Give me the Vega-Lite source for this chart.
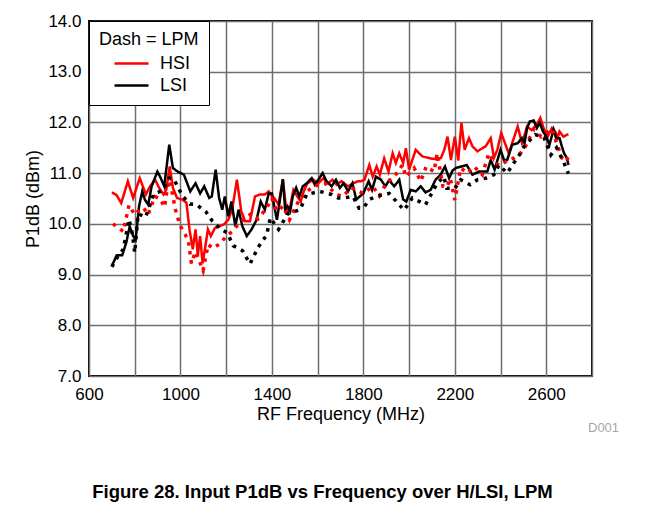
{
  "$schema": "https://vega.github.io/schema/vega-lite/v6.json",
  "autosize": "none",
  "width": 503,
  "height": 355,
  "padding": {"left": 89, "top": 21, "right": 59, "bottom": 132},
  "background": "white",
  "config": {
    "font": "Liberation Sans",
    "view": {"stroke": "black", "strokeWidth": 2},
    "axis": {"labelFont": "Liberation Sans", "titleFont": "Liberation Sans", "labelFontSize": 17, "titleFontSize": 18, "titleFontWeight": "normal", "labelColor": "black", "titleColor": "black", "domain": false, "ticks": false, "gridColor": "#6e6e6e", "gridWidth": 1.5, "gridOpacity": 1},
    "legend": {"labelFont": "Liberation Sans", "titleFont": "Liberation Sans"}
  },
  "title": {"text": "Figure 28. Input P1dB vs Frequency over H/LSI, LPM", "orient": "bottom", "anchor": "middle", "dx": -18, "offset": 48, "fontSize": 18.5, "fontWeight": "bold", "font": "Liberation Sans", "color": "black"},
  "layer": [
    {
      "data": {"values": [
{"f":700,"v":10.62,"s":"HSI","m":"HPM"},{"f":720,"v":10.57,"s":"HSI","m":"HPM"},{"f":741,"v":10.41,"s":"HSI","m":"HPM"},{"f":770,"v":10.84,"s":"HSI","m":"HPM"},{"f":793,"v":10.51,"s":"HSI","m":"HPM"},{"f":822,"v":10.9,"s":"HSI","m":"HPM"},{"f":849,"v":10.58,"s":"HSI","m":"HPM"},{"f":867,"v":10.74,"s":"HSI","m":"HPM"},{"f":889,"v":10.87,"s":"HSI","m":"HPM"},{"f":908,"v":10.7,"s":"HSI","m":"HPM"},{"f":926,"v":10.58,"s":"HSI","m":"HPM"},{"f":938,"v":10.67,"s":"HSI","m":"HPM"},{"f":953,"v":11.13,"s":"HSI","m":"HPM"},{"f":967,"v":10.71,"s":"HSI","m":"HPM"},{"f":985,"v":10.51,"s":"HSI","m":"HPM"},{"f":1007,"v":10.48,"s":"HSI","m":"HPM"},{"f":1026,"v":10.42,"s":"HSI","m":"HPM"},{"f":1040,"v":9.87,"s":"HSI","m":"HPM"},{"f":1054,"v":9.5,"s":"HSI","m":"HPM"},{"f":1066,"v":9.89,"s":"HSI","m":"HPM"},{"f":1076,"v":9.37,"s":"HSI","m":"HPM"},{"f":1086,"v":9.76,"s":"HSI","m":"HPM"},{"f":1097,"v":9.22,"s":"HSI","m":"HPM"},{"f":1109,"v":9.56,"s":"HSI","m":"HPM"},{"f":1120,"v":9.89,"s":"HSI","m":"HPM"},{"f":1133,"v":9.76,"s":"HSI","m":"HPM"},{"f":1151,"v":9.92,"s":"HSI","m":"HPM"},{"f":1169,"v":9.95,"s":"HSI","m":"HPM"},{"f":1190,"v":9.99,"s":"HSI","m":"HPM"},{"f":1209,"v":10.08,"s":"HSI","m":"HPM"},{"f":1226,"v":10.28,"s":"HSI","m":"HPM"},{"f":1247,"v":10.87,"s":"HSI","m":"HPM"},{"f":1266,"v":10.25,"s":"HSI","m":"HPM"},{"f":1283,"v":10.05,"s":"HSI","m":"HPM"},{"f":1304,"v":10.05,"s":"HSI","m":"HPM"},{"f":1326,"v":10.54,"s":"HSI","m":"HPM"},{"f":1347,"v":10.58,"s":"HSI","m":"HPM"},{"f":1369,"v":10.58,"s":"HSI","m":"HPM"},{"f":1386,"v":10.64,"s":"HSI","m":"HPM"},{"f":1400,"v":10.55,"s":"HSI","m":"HPM"},{"f":1410,"v":10.51,"s":"HSI","m":"HPM"},{"f":1429,"v":10.38,"s":"HSI","m":"HPM"},{"f":1448,"v":10.88,"s":"HSI","m":"HPM"},{"f":1465,"v":10.18,"s":"HSI","m":"HPM"},{"f":1480,"v":10.35,"s":"HSI","m":"HPM"},{"f":1494,"v":10.67,"s":"HSI","m":"HPM"},{"f":1510,"v":10.55,"s":"HSI","m":"HPM"},{"f":1526,"v":10.44,"s":"HSI","m":"HPM"},{"f":1540,"v":10.65,"s":"HSI","m":"HPM"},{"f":1555,"v":10.8,"s":"HSI","m":"HPM"},{"f":1581,"v":10.87,"s":"HSI","m":"HPM"},{"f":1603,"v":10.8,"s":"HSI","m":"HPM"},{"f":1625,"v":10.9,"s":"HSI","m":"HPM"},{"f":1645,"v":10.8,"s":"HSI","m":"HPM"},{"f":1665,"v":10.87,"s":"HSI","m":"HPM"},{"f":1683,"v":10.77,"s":"HSI","m":"HPM"},{"f":1704,"v":10.84,"s":"HSI","m":"HPM"},{"f":1733,"v":10.74,"s":"HSI","m":"HPM"},{"f":1755,"v":10.8,"s":"HSI","m":"HPM"},{"f":1777,"v":10.84,"s":"HSI","m":"HPM"},{"f":1790,"v":10.84,"s":"HSI","m":"HPM"},{"f":1805,"v":10.87,"s":"HSI","m":"HPM"},{"f":1826,"v":11.16,"s":"HSI","m":"HPM"},{"f":1841,"v":10.93,"s":"HSI","m":"HPM"},{"f":1858,"v":11.13,"s":"HSI","m":"HPM"},{"f":1872,"v":10.97,"s":"HSI","m":"HPM"},{"f":1891,"v":11.29,"s":"HSI","m":"HPM"},{"f":1910,"v":11.03,"s":"HSI","m":"HPM"},{"f":1928,"v":11.39,"s":"HSI","m":"HPM"},{"f":1942,"v":11.2,"s":"HSI","m":"HPM"},{"f":1957,"v":11.39,"s":"HSI","m":"HPM"},{"f":1974,"v":11.2,"s":"HSI","m":"HPM"},{"f":1986,"v":11.49,"s":"HSI","m":"HPM"},{"f":2000,"v":11.07,"s":"HSI","m":"HPM"},{"f":2029,"v":11.46,"s":"HSI","m":"HPM"},{"f":2058,"v":11.33,"s":"HSI","m":"HPM"},{"f":2094,"v":11.29,"s":"HSI","m":"HPM"},{"f":2123,"v":11.27,"s":"HSI","m":"HPM"},{"f":2139,"v":11.3,"s":"HSI","m":"HPM"},{"f":2154,"v":11.46,"s":"HSI","m":"HPM"},{"f":2168,"v":11.72,"s":"HSI","m":"HPM"},{"f":2183,"v":11.26,"s":"HSI","m":"HPM"},{"f":2200,"v":11.72,"s":"HSI","m":"HPM"},{"f":2215,"v":11.25,"s":"HSI","m":"HPM"},{"f":2229,"v":11.99,"s":"HSI","m":"HPM"},{"f":2243,"v":11.46,"s":"HSI","m":"HPM"},{"f":2262,"v":11.69,"s":"HSI","m":"HPM"},{"f":2277,"v":11.53,"s":"HSI","m":"HPM"},{"f":2299,"v":11.43,"s":"HSI","m":"HPM"},{"f":2313,"v":11.47,"s":"HSI","m":"HPM"},{"f":2335,"v":11.53,"s":"HSI","m":"HPM"},{"f":2357,"v":11.69,"s":"HSI","m":"HPM"},{"f":2371,"v":11.3,"s":"HSI","m":"HPM"},{"f":2386,"v":11.46,"s":"HSI","m":"HPM"},{"f":2403,"v":11.79,"s":"HSI","m":"HPM"},{"f":2422,"v":11.56,"s":"HSI","m":"HPM"},{"f":2436,"v":11.39,"s":"HSI","m":"HPM"},{"f":2458,"v":11.69,"s":"HSI","m":"HPM"},{"f":2475,"v":11.92,"s":"HSI","m":"HPM"},{"f":2494,"v":11.59,"s":"HSI","m":"HPM"},{"f":2516,"v":11.92,"s":"HSI","m":"HPM"},{"f":2535,"v":11.85,"s":"HSI","m":"HPM"},{"f":2557,"v":11.95,"s":"HSI","m":"HPM"},{"f":2574,"v":12.09,"s":"HSI","m":"HPM"},{"f":2588,"v":11.89,"s":"HSI","m":"HPM"},{"f":2606,"v":11.72,"s":"HSI","m":"HPM"},{"f":2625,"v":11.89,"s":"HSI","m":"HPM"},{"f":2639,"v":11.82,"s":"HSI","m":"HPM"},{"f":2650,"v":11.7,"s":"HSI","m":"HPM"},{"f":2658,"v":11.82,"s":"HSI","m":"HPM"},{"f":2675,"v":11.72,"s":"HSI","m":"HPM"},{"f":2697,"v":11.77,"s":"HSI","m":"HPM"},
{"f":700,"v":9.17,"s":"LSI","m":"HPM"},{"f":721,"v":9.38,"s":"LSI","m":"HPM"},{"f":745,"v":9.38,"s":"LSI","m":"HPM"},{"f":763,"v":9.63,"s":"LSI","m":"HPM"},{"f":778,"v":9.95,"s":"LSI","m":"HPM"},{"f":793,"v":9.76,"s":"LSI","m":"HPM"},{"f":804,"v":9.69,"s":"LSI","m":"HPM"},{"f":819,"v":10.35,"s":"LSI","m":"HPM"},{"f":833,"v":10.64,"s":"LSI","m":"HPM"},{"f":844,"v":10.48,"s":"LSI","m":"HPM"},{"f":859,"v":10.38,"s":"LSI","m":"HPM"},{"f":874,"v":10.74,"s":"LSI","m":"HPM"},{"f":899,"v":11.03,"s":"LSI","m":"HPM"},{"f":911,"v":10.93,"s":"LSI","m":"HPM"},{"f":929,"v":10.74,"s":"LSI","m":"HPM"},{"f":951,"v":11.56,"s":"LSI","m":"HPM"},{"f":967,"v":11.1,"s":"LSI","m":"HPM"},{"f":988,"v":11.03,"s":"LSI","m":"HPM"},{"f":1015,"v":10.97,"s":"LSI","m":"HPM"},{"f":1043,"v":10.64,"s":"LSI","m":"HPM"},{"f":1066,"v":10.8,"s":"LSI","m":"HPM"},{"f":1086,"v":10.6,"s":"LSI","m":"HPM"},{"f":1104,"v":10.74,"s":"LSI","m":"HPM"},{"f":1126,"v":10.51,"s":"LSI","m":"HPM"},{"f":1137,"v":10.54,"s":"LSI","m":"HPM"},{"f":1154,"v":11.07,"s":"LSI","m":"HPM"},{"f":1169,"v":10.51,"s":"LSI","m":"HPM"},{"f":1183,"v":10.28,"s":"LSI","m":"HPM"},{"f":1194,"v":10.54,"s":"LSI","m":"HPM"},{"f":1209,"v":10.15,"s":"LSI","m":"HPM"},{"f":1223,"v":10.44,"s":"LSI","m":"HPM"},{"f":1240,"v":9.95,"s":"LSI","m":"HPM"},{"f":1254,"v":10.28,"s":"LSI","m":"HPM"},{"f":1271,"v":9.95,"s":"LSI","m":"HPM"},{"f":1290,"v":9.76,"s":"LSI","m":"HPM"},{"f":1311,"v":9.89,"s":"LSI","m":"HPM"},{"f":1333,"v":10.08,"s":"LSI","m":"HPM"},{"f":1351,"v":10.44,"s":"LSI","m":"HPM"},{"f":1369,"v":10.28,"s":"LSI","m":"HPM"},{"f":1386,"v":10.6,"s":"LSI","m":"HPM"},{"f":1400,"v":10.6,"s":"LSI","m":"HPM"},{"f":1410,"v":10.35,"s":"LSI","m":"HPM"},{"f":1422,"v":10.08,"s":"LSI","m":"HPM"},{"f":1433,"v":10.41,"s":"LSI","m":"HPM"},{"f":1448,"v":10.88,"s":"LSI","m":"HPM"},{"f":1458,"v":10.28,"s":"LSI","m":"HPM"},{"f":1468,"v":10.35,"s":"LSI","m":"HPM"},{"f":1480,"v":10.25,"s":"LSI","m":"HPM"},{"f":1491,"v":10.54,"s":"LSI","m":"HPM"},{"f":1506,"v":10.71,"s":"LSI","m":"HPM"},{"f":1520,"v":10.54,"s":"LSI","m":"HPM"},{"f":1535,"v":10.74,"s":"LSI","m":"HPM"},{"f":1552,"v":10.8,"s":"LSI","m":"HPM"},{"f":1574,"v":10.9,"s":"LSI","m":"HPM"},{"f":1588,"v":10.77,"s":"LSI","m":"HPM"},{"f":1603,"v":10.87,"s":"LSI","m":"HPM"},{"f":1622,"v":11.0,"s":"LSI","m":"HPM"},{"f":1639,"v":10.84,"s":"LSI","m":"HPM"},{"f":1661,"v":10.74,"s":"LSI","m":"HPM"},{"f":1680,"v":10.87,"s":"LSI","m":"HPM"},{"f":1697,"v":10.71,"s":"LSI","m":"HPM"},{"f":1714,"v":10.8,"s":"LSI","m":"HPM"},{"f":1733,"v":10.64,"s":"LSI","m":"HPM"},{"f":1752,"v":10.8,"s":"LSI","m":"HPM"},{"f":1769,"v":10.48,"s":"LSI","m":"HPM"},{"f":1784,"v":10.54,"s":"LSI","m":"HPM"},{"f":1800,"v":10.6,"s":"LSI","m":"HPM"},{"f":1823,"v":10.84,"s":"LSI","m":"HPM"},{"f":1838,"v":10.67,"s":"LSI","m":"HPM"},{"f":1855,"v":10.93,"s":"LSI","m":"HPM"},{"f":1877,"v":10.87,"s":"LSI","m":"HPM"},{"f":1896,"v":10.74,"s":"LSI","m":"HPM"},{"f":1913,"v":10.86,"s":"LSI","m":"HPM"},{"f":1935,"v":10.74,"s":"LSI","m":"HPM"},{"f":1957,"v":10.87,"s":"LSI","m":"HPM"},{"f":1974,"v":10.48,"s":"LSI","m":"HPM"},{"f":1988,"v":10.44,"s":"LSI","m":"HPM"},{"f":2007,"v":10.67,"s":"LSI","m":"HPM"},{"f":2029,"v":10.64,"s":"LSI","m":"HPM"},{"f":2051,"v":10.74,"s":"LSI","m":"HPM"},{"f":2072,"v":10.62,"s":"LSI","m":"HPM"},{"f":2094,"v":10.67,"s":"LSI","m":"HPM"},{"f":2116,"v":10.87,"s":"LSI","m":"HPM"},{"f":2138,"v":10.97,"s":"LSI","m":"HPM"},{"f":2157,"v":11.13,"s":"LSI","m":"HPM"},{"f":2175,"v":10.9,"s":"LSI","m":"HPM"},{"f":2190,"v":11.05,"s":"LSI","m":"HPM"},{"f":2204,"v":11.1,"s":"LSI","m":"HPM"},{"f":2229,"v":11.13,"s":"LSI","m":"HPM"},{"f":2252,"v":11.16,"s":"LSI","m":"HPM"},{"f":2277,"v":10.97,"s":"LSI","m":"HPM"},{"f":2306,"v":11.03,"s":"LSI","m":"HPM"},{"f":2342,"v":11.03,"s":"LSI","m":"HPM"},{"f":2357,"v":11.26,"s":"LSI","m":"HPM"},{"f":2374,"v":11.07,"s":"LSI","m":"HPM"},{"f":2400,"v":11.46,"s":"LSI","m":"HPM"},{"f":2415,"v":11.26,"s":"LSI","m":"HPM"},{"f":2429,"v":11.26,"s":"LSI","m":"HPM"},{"f":2451,"v":11.56,"s":"LSI","m":"HPM"},{"f":2475,"v":11.59,"s":"LSI","m":"HPM"},{"f":2494,"v":11.69,"s":"LSI","m":"HPM"},{"f":2505,"v":11.59,"s":"LSI","m":"HPM"},{"f":2516,"v":11.89,"s":"LSI","m":"HPM"},{"f":2528,"v":12.02,"s":"LSI","m":"HPM"},{"f":2545,"v":12.04,"s":"LSI","m":"HPM"},{"f":2559,"v":11.89,"s":"LSI","m":"HPM"},{"f":2571,"v":11.99,"s":"LSI","m":"HPM"},{"f":2586,"v":11.82,"s":"LSI","m":"HPM"},{"f":2600,"v":11.72,"s":"LSI","m":"HPM"},{"f":2614,"v":11.56,"s":"LSI","m":"HPM"},{"f":2632,"v":11.86,"s":"LSI","m":"HPM"},{"f":2643,"v":11.69,"s":"LSI","m":"HPM"},{"f":2658,"v":11.69,"s":"LSI","m":"HPM"},{"f":2668,"v":11.53,"s":"LSI","m":"HPM"},{"f":2678,"v":11.39,"s":"LSI","m":"HPM"},{"f":2690,"v":11.3,"s":"LSI","m":"HPM"},{"f":2697,"v":11.16,"s":"LSI","m":"HPM"},
{"f":705,"v":10.0,"s":"HSI","m":"LPM"},{"f":750,"v":9.85,"s":"HSI","m":"LPM"},{"f":775,"v":10.37,"s":"HSI","m":"LPM"},{"f":800,"v":10.18,"s":"HSI","m":"LPM"},{"f":825,"v":10.3,"s":"HSI","m":"LPM"},{"f":840,"v":10.31,"s":"HSI","m":"LPM"},{"f":858,"v":10.18,"s":"HSI","m":"LPM"},{"f":888,"v":10.54,"s":"HSI","m":"LPM"},{"f":910,"v":10.5,"s":"HSI","m":"LPM"},{"f":931,"v":10.33,"s":"HSI","m":"LPM"},{"f":950,"v":10.95,"s":"HSI","m":"LPM"},{"f":977,"v":10.3,"s":"HSI","m":"LPM"},{"f":997,"v":9.98,"s":"HSI","m":"LPM"},{"f":1034,"v":9.68,"s":"HSI","m":"LPM"},{"f":1048,"v":9.22,"s":"HSI","m":"LPM"},{"f":1065,"v":9.45,"s":"HSI","m":"LPM"},{"f":1080,"v":9.3,"s":"HSI","m":"LPM"},{"f":1099,"v":9.08,"s":"HSI","m":"LPM"},{"f":1121,"v":9.59,"s":"HSI","m":"LPM"},{"f":1143,"v":9.52,"s":"HSI","m":"LPM"},{"f":1170,"v":9.6,"s":"HSI","m":"LPM"},{"f":1200,"v":9.75,"s":"HSI","m":"LPM"},{"f":1226,"v":9.85,"s":"HSI","m":"LPM"},{"f":1255,"v":10.0,"s":"HSI","m":"LPM"},{"f":1280,"v":10.1,"s":"HSI","m":"LPM"},{"f":1310,"v":10.2,"s":"HSI","m":"LPM"},{"f":1340,"v":10.1,"s":"HSI","m":"LPM"},{"f":1375,"v":10.3,"s":"HSI","m":"LPM"},{"f":1400,"v":10.5,"s":"HSI","m":"LPM"},{"f":1422,"v":10.25,"s":"HSI","m":"LPM"},{"f":1450,"v":10.35,"s":"HSI","m":"LPM"},{"f":1477,"v":10.08,"s":"HSI","m":"LPM"},{"f":1500,"v":10.3,"s":"HSI","m":"LPM"},{"f":1516,"v":10.44,"s":"HSI","m":"LPM"},{"f":1538,"v":10.58,"s":"HSI","m":"LPM"},{"f":1581,"v":10.74,"s":"HSI","m":"LPM"},{"f":1632,"v":10.8,"s":"HSI","m":"LPM"},{"f":1661,"v":10.67,"s":"HSI","m":"LPM"},{"f":1683,"v":10.58,"s":"HSI","m":"LPM"},{"f":1709,"v":10.54,"s":"HSI","m":"LPM"},{"f":1748,"v":10.71,"s":"HSI","m":"LPM"},{"f":1768,"v":10.67,"s":"HSI","m":"LPM"},{"f":1800,"v":10.6,"s":"HSI","m":"LPM"},{"f":1841,"v":10.74,"s":"HSI","m":"LPM"},{"f":1870,"v":10.55,"s":"HSI","m":"LPM"},{"f":1899,"v":10.8,"s":"HSI","m":"LPM"},{"f":1935,"v":10.93,"s":"HSI","m":"LPM"},{"f":1971,"v":11.16,"s":"HSI","m":"LPM"},{"f":1986,"v":10.93,"s":"HSI","m":"LPM"},{"f":2022,"v":11.1,"s":"HSI","m":"LPM"},{"f":2051,"v":10.84,"s":"HSI","m":"LPM"},{"f":2075,"v":11.13,"s":"HSI","m":"LPM"},{"f":2109,"v":11.03,"s":"HSI","m":"LPM"},{"f":2123,"v":11.39,"s":"HSI","m":"LPM"},{"f":2148,"v":10.74,"s":"HSI","m":"LPM"},{"f":2165,"v":10.72,"s":"HSI","m":"LPM"},{"f":2180,"v":10.9,"s":"HSI","m":"LPM"},{"f":2200,"v":10.47,"s":"HSI","m":"LPM"},{"f":2226,"v":11.1,"s":"HSI","m":"LPM"},{"f":2255,"v":11.0,"s":"HSI","m":"LPM"},{"f":2284,"v":11.13,"s":"HSI","m":"LPM"},{"f":2320,"v":10.97,"s":"HSI","m":"LPM"},{"f":2349,"v":11.39,"s":"HSI","m":"LPM"},{"f":2375,"v":11.2,"s":"HSI","m":"LPM"},{"f":2400,"v":11.15,"s":"HSI","m":"LPM"},{"f":2430,"v":11.25,"s":"HSI","m":"LPM"},{"f":2460,"v":11.3,"s":"HSI","m":"LPM"},{"f":2487,"v":11.39,"s":"HSI","m":"LPM"},{"f":2509,"v":11.53,"s":"HSI","m":"LPM"},{"f":2545,"v":11.86,"s":"HSI","m":"LPM"},{"f":2577,"v":11.72,"s":"HSI","m":"LPM"},{"f":2625,"v":11.87,"s":"HSI","m":"LPM"},{"f":2643,"v":11.62,"s":"HSI","m":"LPM"},{"f":2668,"v":11.3,"s":"HSI","m":"LPM"},{"f":2690,"v":11.23,"s":"HSI","m":"LPM"},{"f":2697,"v":11.36,"s":"HSI","m":"LPM"},
{"f":700,"v":9.15,"s":"LSI","m":"LPM"},{"f":725,"v":9.35,"s":"LSI","m":"LPM"},{"f":750,"v":9.5,"s":"LSI","m":"LPM"},{"f":775,"v":10.09,"s":"LSI","m":"LPM"},{"f":790,"v":9.8,"s":"LSI","m":"LPM"},{"f":800,"v":9.43,"s":"LSI","m":"LPM"},{"f":815,"v":10.2,"s":"LSI","m":"LPM"},{"f":847,"v":10.13,"s":"LSI","m":"LPM"},{"f":865,"v":10.35,"s":"LSI","m":"LPM"},{"f":883,"v":10.59,"s":"LSI","m":"LPM"},{"f":924,"v":10.66,"s":"LSI","m":"LPM"},{"f":950,"v":10.9,"s":"LSI","m":"LPM"},{"f":970,"v":10.89,"s":"LSI","m":"LPM"},{"f":1009,"v":10.55,"s":"LSI","m":"LPM"},{"f":1041,"v":10.39,"s":"LSI","m":"LPM"},{"f":1070,"v":10.38,"s":"LSI","m":"LPM"},{"f":1111,"v":10.24,"s":"LSI","m":"LPM"},{"f":1140,"v":10.05,"s":"LSI","m":"LPM"},{"f":1172,"v":9.91,"s":"LSI","m":"LPM"},{"f":1205,"v":9.82,"s":"LSI","m":"LPM"},{"f":1231,"v":9.57,"s":"LSI","m":"LPM"},{"f":1272,"v":9.47,"s":"LSI","m":"LPM"},{"f":1304,"v":9.21,"s":"LSI","m":"LPM"},{"f":1340,"v":9.54,"s":"LSI","m":"LPM"},{"f":1377,"v":9.78,"s":"LSI","m":"LPM"},{"f":1393,"v":10.12,"s":"LSI","m":"LPM"},{"f":1419,"v":9.95,"s":"LSI","m":"LPM"},{"f":1429,"v":9.89,"s":"LSI","m":"LPM"},{"f":1470,"v":10.2,"s":"LSI","m":"LPM"},{"f":1523,"v":10.28,"s":"LSI","m":"LPM"},{"f":1552,"v":10.58,"s":"LSI","m":"LPM"},{"f":1610,"v":10.64,"s":"LSI","m":"LPM"},{"f":1661,"v":10.58,"s":"LSI","m":"LPM"},{"f":1690,"v":10.51,"s":"LSI","m":"LPM"},{"f":1714,"v":10.51,"s":"LSI","m":"LPM"},{"f":1755,"v":10.54,"s":"LSI","m":"LPM"},{"f":1781,"v":10.31,"s":"LSI","m":"LPM"},{"f":1800,"v":10.31,"s":"LSI","m":"LPM"},{"f":1826,"v":10.48,"s":"LSI","m":"LPM"},{"f":1855,"v":10.54,"s":"LSI","m":"LPM"},{"f":1913,"v":10.6,"s":"LSI","m":"LPM"},{"f":1978,"v":10.27,"s":"LSI","m":"LPM"},{"f":2014,"v":10.51,"s":"LSI","m":"LPM"},{"f":2072,"v":10.38,"s":"LSI","m":"LPM"},{"f":2123,"v":10.8,"s":"LSI","m":"LPM"},{"f":2152,"v":10.93,"s":"LSI","m":"LPM"},{"f":2165,"v":10.7,"s":"LSI","m":"LPM"},{"f":2200,"v":10.7,"s":"LSI","m":"LPM"},{"f":2226,"v":10.87,"s":"LSI","m":"LPM"},{"f":2267,"v":10.77,"s":"LSI","m":"LPM"},{"f":2299,"v":10.87,"s":"LSI","m":"LPM"},{"f":2335,"v":10.9,"s":"LSI","m":"LPM"},{"f":2371,"v":10.97,"s":"LSI","m":"LPM"},{"f":2393,"v":11.16,"s":"LSI","m":"LPM"},{"f":2429,"v":11.0,"s":"LSI","m":"LPM"},{"f":2458,"v":11.2,"s":"LSI","m":"LPM"},{"f":2487,"v":11.39,"s":"LSI","m":"LPM"},{"f":2504,"v":11.53,"s":"LSI","m":"LPM"},{"f":2552,"v":11.76,"s":"LSI","m":"LPM"},{"f":2590,"v":11.7,"s":"LSI","m":"LPM"},{"f":2620,"v":11.36,"s":"LSI","m":"LPM"},{"f":2645,"v":11.5,"s":"LSI","m":"LPM"},{"f":2675,"v":11.23,"s":"LSI","m":"LPM"},{"f":2697,"v":10.99,"s":"LSI","m":"LPM"}
      ]},
      "mark": {"type": "line", "clip": true, "strokeCap": "butt"},
      "encoding": {
        "x": {"field": "f", "type": "quantitative", "title": "RF Frequency (MHz)",
              "scale": {"domain": [600, 2800], "nice": false, "zero": false},
              "axis": {"values": [600,800,1000,1200,1400,1600,1800,2000,2200,2400,2600,2800], "labelExpr": "(datum.value - 600) % 400 == 0 ? format(datum.value, 'd') : ''", "labelPadding": 10, "titlePadding": 3, "labelFlush": false, "labelOverlap": false}},
        "y": {"field": "v", "type": "quantitative", "title": "P1dB (dBm)",
              "scale": {"domain": [7, 14], "nice": false, "zero": false},
              "axis": {"values": [7,8,9,10,11,12,13,14], "format": ".1f", "labelPadding": 8, "titlePadding": 5, "labelFlush": false, "labelOverlap": false}},
        "color": {"field": "s", "type": "nominal",
                  "scale": {"domain": ["HSI", "LSI"], "range": ["#ff0000", "#000000"]},
                  "legend": {"orient": "top-left", "offset": 0, "title": "Dash = LPM", "titleFontWeight": "normal", "titleFontSize": 18, "titleColor": "black", "labelFontSize": 18, "labelColor": "black", "symbolType": "M-1.7,0H1.7", "symbolStrokeWidth": 2.5, "symbolSize": 400, "strokeColor": "black", "fillColor": "white", "padding": 10, "titlePadding": 3, "rowPadding": 1, "symbolOffset": 21, "labelOffset": 17, "titleLimit": 200}},
        "strokeDash": {"field": "m", "type": "nominal",
                       "scale": {"domain": ["HPM", "LPM"], "range": [[1, 0], [3.5, 5.5]]},
                       "legend": null},
        "strokeWidth": {"field": "m", "type": "nominal",
                        "scale": {"domain": ["HPM", "LPM"], "range": [2.5, 3.5]},
                        "legend": null}
      }
    },
    {
      "data": {"values": [{"label": "D001"}]},
      "mark": {"type": "text", "fontSize": 13, "fontWeight": "normal", "fill": "#a6a6a6", "align": "left", "baseline": "middle", "dx": -4, "font": "Liberation Sans"},
      "encoding": {
        "text": {"field": "label", "type": "nominal"},
        "x": {"datum": 2800, "type": "quantitative"},
        "y": {"datum": 5.98, "type": "quantitative"}
      }
    }
  ]
}
